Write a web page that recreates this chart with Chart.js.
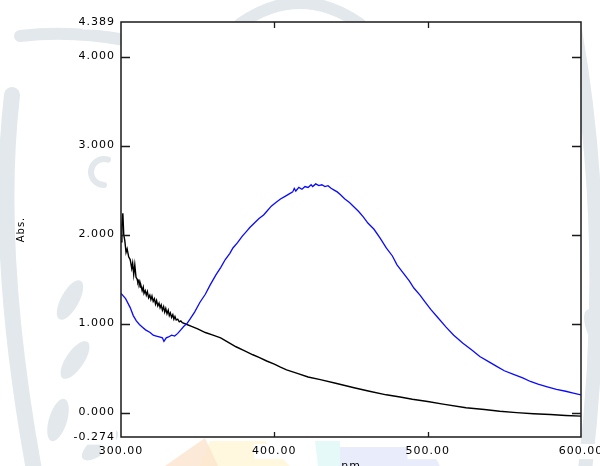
<!DOCTYPE html>
<html>
<head>
<meta charset="utf-8">
<script src="https://cdn.jsdelivr.net/npm/chart.js@4"></script>
<style>
  body { margin: 0; background: #fff; }
  #wrap { width: 600px; height: 466px; }
</style>
</head>
<body>
<div id="wrap"><canvas id="myChart" width="600" height="466"></canvas></div>
<script>
// axis ticks (as printed by the spectrometer software)
const xTicks = [300, 400, 500, 600];
const yTicks = [-0.274, 0, 1, 2, 3, 4, 4.389];
const xMin = 300, xMax = 600;
const yMin = -0.274, yMax = 4.389;

// black spectrum
const blackNm = [300, 300.6, 301.2, 301.8, 302.5, 303.3, 304, 305, 306, 307, 307.6, 308.3, 309, 309.8,
  310.5, 311, 311.8, 312.5, 313, 313.8, 314.5, 315, 315.8, 316.5, 317.2, 318, 318.8, 319.5, 320.2, 321,
  321.8, 322.5, 323.2, 324, 324.8, 325.5, 326.2, 327, 327.8, 328.5, 329.2, 330, 330.8, 331.5, 332.2, 333,
  333.8, 334.5, 335.2, 336, 337, 338, 339, 340, 343, 346, 350, 355, 360, 365, 370, 375, 380, 386, 390, 395, 400, 404, 408,
  415, 422, 430, 440, 452, 462, 473, 482, 490, 500, 510, 525, 537, 547, 558, 569, 580, 590, 600];
const blackAbs = [1.92, 2.10, 2.24, 2.00, 1.93, 1.80, 1.84, 1.75, 1.72, 1.62, 1.68, 1.55, 1.66, 1.52,
  1.50, 1.46, 1.48, 1.41, 1.43, 1.37, 1.41, 1.34, 1.37, 1.32, 1.36, 1.29, 1.32, 1.27, 1.31, 1.25,
  1.28, 1.22, 1.26, 1.20, 1.23, 1.18, 1.21, 1.15, 1.19, 1.13, 1.17, 1.11, 1.15, 1.09, 1.12, 1.07,
  1.10, 1.05, 1.08, 1.04, 1.05, 1.02, 1.03, 1.01, 0.99, 0.97, 0.94, 0.90, 0.87, 0.84, 0.79, 0.74, 0.70, 0.65, 0.62, 0.58, 0.545, 0.51, 0.48,
  0.44, 0.40, 0.37, 0.33, 0.28, 0.24, 0.20, 0.175, 0.15, 0.125, 0.095, 0.055, 0.035, 0.015, 0.0, -0.012, -0.022, -0.032, -0.04];

// blue spectrum
const blueNm = [300, 303, 306, 308, 310, 312, 314, 316, 319, 321, 323, 325, 327, 328, 329.5, 331, 333,
  335, 337, 339, 341, 343, 345, 348, 351.5, 355, 358, 362, 365, 368, 371, 373, 376, 379, 382, 384, 387,
  390, 393, 395, 398, 401, 404, 407, 410, 412, 413, 414, 416, 418, 420, 422, 424, 425, 427, 429, 431,
  433, 435, 437, 439, 441, 443, 446, 449, 452, 455, 458, 461, 465, 469, 473, 477, 480, 484, 488, 491,
  495, 498, 502, 507, 512, 517, 523, 529, 534, 540, 545, 550, 556, 562, 567, 572, 578, 584, 590, 595, 600];
const blueAbs = [1.34, 1.28, 1.18, 1.09, 1.03, 0.99, 0.96, 0.93, 0.90, 0.87, 0.86, 0.85, 0.84, 0.80, 0.84, 0.85, 0.87,
  0.86, 0.89, 0.93, 0.97, 1.00, 1.05, 1.13, 1.24, 1.33, 1.43, 1.55, 1.63, 1.72, 1.79, 1.85, 1.91, 1.98, 2.04, 2.08, 2.13,
  2.18, 2.22, 2.26, 2.32, 2.36, 2.40, 2.43, 2.46, 2.48, 2.52, 2.49, 2.53, 2.51, 2.54, 2.53, 2.56, 2.54, 2.57, 2.55, 2.56,
  2.54, 2.55, 2.52, 2.50, 2.48, 2.45, 2.40, 2.36, 2.31, 2.26, 2.20, 2.13, 2.06, 1.96, 1.85, 1.76, 1.66, 1.57, 1.48, 1.40,
  1.32, 1.25, 1.16, 1.06, 0.96, 0.87, 0.78, 0.70, 0.63, 0.57, 0.52, 0.47, 0.43, 0.39, 0.35, 0.32, 0.29, 0.26, 0.24, 0.22, 0.20];

const toPoints = (xs, ys) => xs.map((x, i) => ({ x: x, y: ys[i] }));

/*********************************
 PLUGINS
**********************************/
// faint emblem printed behind the figure
const watermarkPlugin = {
  id: 'watermark',
  beforeDraw(chart) {
    const c = chart.ctx;
    const area = chart.chartArea;
    c.save();
    c.fillStyle = '#fff';
    c.fillRect(0, 0, chart.width, chart.height);
    c.strokeStyle = 'rgb(226,232,236)';
    c.fillStyle = 'rgb(226,232,236)';
    c.lineCap = 'round';
    c.lineWidth = 16;
    c.beginPath();
    c.moveTo(34, 470);
    c.quadraticCurveTo(-6, 250, 12, 95);
    c.stroke();
    c.lineWidth = 12;
    c.beginPath();
    c.moveTo(20, 36);
    c.quadraticCurveTo(70, 30, 125, 40);
    c.stroke();
    c.beginPath();
    c.moveTo(240, 24);
    c.quadraticCurveTo(300, -18, 360, 24);
    c.stroke();
    c.lineWidth = 14;
    c.beginPath();
    c.moveTo(575, 30);
    c.quadraticCurveTo(612, 240, 585, 470);
    c.stroke();
    c.lineWidth = 6;
    c.beginPath();
    c.arc(104, 172, 13, 0.5 * Math.PI, 1.6 * Math.PI);
    c.stroke();
    const leaves = [[70, 300, 0.5], [75, 360, 0.6], [58, 420, 0.3], [100, 445, 0.9], [596, 330, -0.4]];
    leaves.forEach(([lx, ly, r]) => {
      c.beginPath();
      c.ellipse(lx, ly, 9, 22, r, 0, 2 * Math.PI);
      c.fill();
    });
    const patch = (pts, col) => {
      c.fillStyle = col;
      c.beginPath();
      pts.forEach(([px, py], i) => (i ? c.lineTo(px, py) : c.moveTo(px, py)));
      c.closePath();
      c.fill();
    };
    patch([[200, 466], [210, 441], [265, 441], [290, 466]], 'rgba(255,246,214,0.8)');
    patch([[165, 466], [205, 438], [218, 466]], 'rgba(253,228,206,0.8)');
    patch([[315, 441], [340, 441], [340, 466], [318, 466]], 'rgba(224,248,248,0.8)');
    patch([[340, 447], [430, 447], [440, 466], [340, 466]], 'rgba(228,233,250,0.8)');
    // plot box is opaque white
    c.fillStyle = '#fff';
    c.fillRect(area.left, area.top, area.right - area.left, area.bottom - area.top);
    c.restore();
    c.letterSpacing = '1px';
  }
};

// frame and inward tick marks on all four sides
const framePlugin = {
  id: 'frame',
  afterDraw(chart) {
    const c = chart.ctx;
    const { left, right, top, bottom } = chart.chartArea;
    const xs = chart.scales.x, ys = chart.scales.y;
    c.save();
    c.strokeStyle = '#1a1a1a';
    c.lineWidth = 1.5;
    c.strokeRect(left, top, right - left, bottom - top);
    c.lineWidth = 1.3;
    c.beginPath();
    yTicks.filter(v => v > yMin && v < yMax).forEach(v => {
      const py = Math.round(ys.getPixelForValue(v)) + 0.5;
      c.moveTo(left, py); c.lineTo(left + 9, py);
      c.moveTo(right, py); c.lineTo(right - 9, py);
    });
    xTicks.filter(v => v > xMin && v < xMax).forEach(v => {
      const px = Math.round(xs.getPixelForValue(v)) + 0.5;
      c.moveTo(px, top); c.lineTo(px, top + 6);
      c.moveTo(px, bottom); c.lineTo(px, bottom - 5);
    });
    c.stroke();
    c.restore();
  }
};

const config = {
  type: 'line',
  data: {
    datasets: [
      {
        label: 'blue',
        data: toPoints(blueNm, blueAbs),
        borderColor: '#0a0aff',
        borderWidth: 1.3,
        pointRadius: 0,
        tension: 0,
      },
      {
        label: 'black',
        data: toPoints(blackNm, blackAbs),
        borderColor: '#000',
        borderWidth: 1.4,
        pointRadius: 0,
        tension: 0,
      },
    ]
  },
  options: {
    responsive: false,
    animation: false,
    events: [],
    layout: { padding: { left: 0, right: 19, top: 22, bottom: 0 } },
    plugins: {
      legend: { display: false },
      tooltip: { enabled: false },
    },
    scales: {
      x: {
        type: 'linear',
        min: xMin,
        max: xMax,
        grid: { display: false, drawTicks: false },
        border: { display: false },
        afterBuildTicks: (scale) => { scale.ticks = xTicks.map(v => ({ value: v })); },
        afterFit: (scale) => {
          scale.height = 29;
          scale.paddingLeft = 0;
          scale.paddingRight = 0;
        },
        ticks: {
          autoSkip: false,
          maxRotation: 0,
          padding: 8,
          color: '#000',
          font: { size: 11 },
          showLabelBackdrop: true,
          backdropColor: '#fff',
          backdropPadding: 1,
          callback: (v) => Number(v).toFixed(2),
        },
        title: {
          display: true,
          text: 'nm',
          color: '#000',
          font: { size: 11 },
          padding: { top: 0, bottom: -7 },
        },
      },
      y: {
        min: yMin,
        max: yMax,
        grid: { display: false, drawTicks: false },
        border: { display: false },
        afterBuildTicks: (scale) => { scale.ticks = yTicks.map(v => ({ value: v })); },
        afterFit: (scale) => {
          scale.width = 121;
          scale.paddingTop = 0;
          scale.paddingBottom = 0;
        },
        ticks: {
          autoSkip: false,
          padding: 6,
          color: '#000',
          font: { size: 11 },
          showLabelBackdrop: true,
          backdropColor: '#fff',
          backdropPadding: 1,
          callback: (v) => Number(v).toFixed(3),
        },
        title: {
          display: true,
          text: 'Abs.',
          color: '#000',
          font: { size: 10 },
          padding: { top: 15, bottom: 0 },
        },
      },
    },
  },
  plugins: [watermarkPlugin, framePlugin]
};
Chart.defaults.font.family = "'DejaVu Sans'";
new Chart('myChart', config);
</script>
</body>
</html>
